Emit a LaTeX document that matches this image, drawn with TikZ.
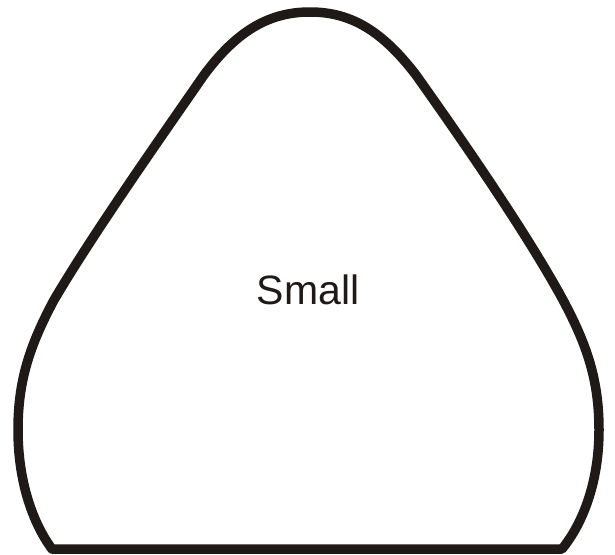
\documentclass[tikz,border=0pt]{standalone}
\usepackage{fontspec}
\setmainfont{Liberation Sans}
\definecolor{ink}{HTML}{1F1A17}
\begin{document}
\begin{tikzpicture}[x=1pt,y=-1pt,
  outline/.style={draw=ink,line width=9.5pt,line join=round}]
\useasboundingbox (0,0) rectangle (615,554);
\draw[outline] (52,549) -- (562,549)
  .. controls (584,522) and (599,480) .. (599,430)
  .. controls (599,380) and (587,345) .. (563,300)
  .. controls (525,230) and (455,130) .. (416,75)
  .. controls (383,32) and (352,12) .. (310,12)
  .. controls (268,12) and (236,32) .. (204,75)
  .. controls (166,130) and (94,232) .. (54,300)
  .. controls (30,345) and (18,380) .. (18,430)
  .. controls (18,480) and (32,522) .. (52,549) -- cycle;
\node[text=ink,font=\fontsize{41}{41}\selectfont,anchor=base] (lbl) at (308,304) {Small};
\end{tikzpicture}
\end{document}
